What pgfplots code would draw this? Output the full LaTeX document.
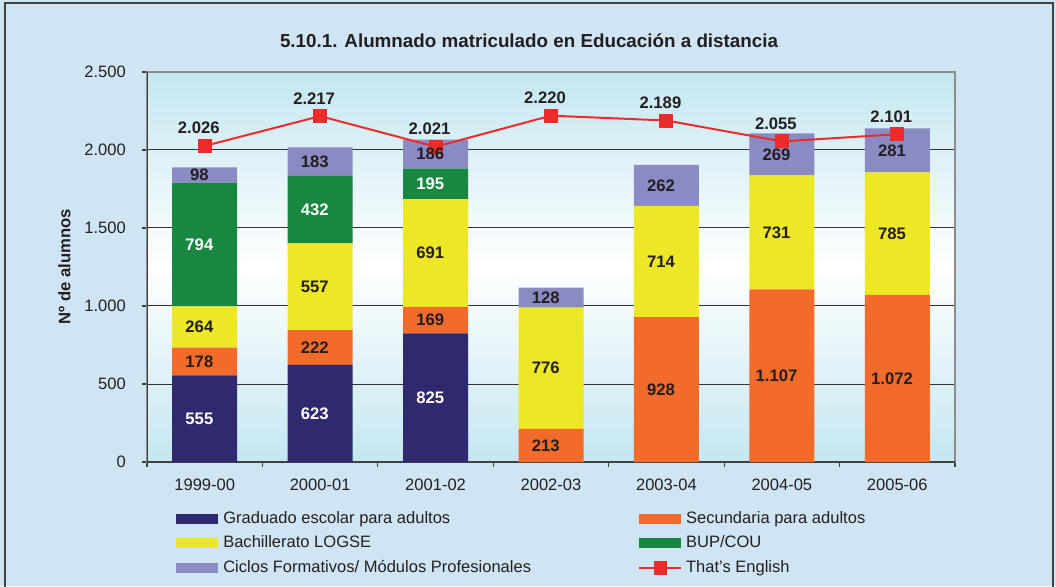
\documentclass[border=0pt]{standalone}
\usepackage{pgfplots}
\pgfplotsset{compat=1.18}
\usepackage{pgfplotstable}
\usepackage{fontspec}
\setmainfont{Liberation Sans}
\definecolor{bgblue}{RGB}{208,229,244}
\definecolor{plotblue}{RGB}{196,231,241}
\definecolor{cnavy}{RGB}{47,42,111}
\definecolor{corange}{RGB}{242,107,42}
\definecolor{cyellow}{RGB}{236,232,38}
\definecolor{cgreen}{RGB}{23,135,66}
\definecolor{clav}{RGB}{139,139,196}
\definecolor{cred}{RGB}{238,43,43}
\definecolor{ctext}{RGB}{35,31,32}
\newcommand{\fnorm}{\fontsize{12.4}{14.9}\selectfont}
\newcommand{\fbold}{\fontsize{12.5}{15}\selectfont\bfseries}

\pgfplotstableread{
x grad sec bach bup cic
0 555 178 264 794 98
1 623 222 557 432 183
2 825 169 691 195 186
3 0 213 776 0 128
4 0 928 714 0 262
5 0 1107 731 0 269
6 0 1072 785 0 281
}\bars
\pgfplotstableread{
x eng
0 2026
1 2217
2 2021
3 2220
4 2189
5 2055
6 2101
}\english
\pgfplotstableread{
x y lab
0 277.5 555
1 311.5 623
2 412.5 825
0 1394 794
1 1618 432
2 1782.5 195
}\whitelabels
\pgfplotstableread{
x y lab
0 644 178
0 865 264
0 1840 98
1 734 222
1 1123.5 557
1 1925.5 183
2 909.5 169
2 1339.5 691
2 1973 186
3 106.5 213
3 601 776
3 1053 128
4 464 928
4 1285 714
4 1773 262
5 553.5 1.107
5 1472.5 731
5 1972.5 269
6 536 1.072
6 1464.5 785
6 1997.5 281
}\darklabels

\pgfplotsset{
  common/.style={scale only axis, width=606pt, height=292.5pt,
    at={(110.25pt,93pt)}, anchor=south west,
    xmin=-0.5, xmax=6.5, ymin=0, ymax=2500,
    /pgf/number format/assume math mode=true,
    /pgf/number format/1000 sep={.}},
  barimg/.style={legend image code/.code={\fill[##1, draw=none] (0pt,-3.75pt) rectangle (31.5pt,3.75pt); \path[draw=none, fill=none] (0pt,0pt) -- (35.25pt,0pt);}},
  lineimg/.style={legend image code/.code={\draw[mark repeat=2, mark phase=2, ##1] plot coordinates {(0pt,0pt) (15.75pt,0pt) (31.5pt,0pt)}; \path[draw=none, fill=none] (0pt,0pt) -- (35.25pt,0pt);}}
}

\begin{document}
\begin{tikzpicture}
\fill[bgblue, use as bounding box] (0,0) rectangle (792pt,439.5pt);
\draw[black!75, line width=1.1pt] (3.75pt,-2pt) -- (3.75pt,437.25pt) -- (789.75pt,437.25pt) -- (789.75pt,-2pt);
\node[font=\fontsize{14.1}{17}\selectfont\bfseries, text=ctext] at (396.75pt,408.75pt) {5.10.1. Alumnado matriculado en Educación a distancia};
\node[font=\fbold, text=ctext, rotate=90] at (48.4pt,239.25pt) {Nº de alumnos};

\begin{axis}[common,
  ybar stacked, bar width=48.75pt,
  axis background/.style={top color=plotblue, bottom color=plotblue, middle color=white},
  axis line style={draw=black!45, line width=1.3pt},
  ytick={0,500,...,2500}, ytick pos=left,
  xtick={-0.5,0.5,...,6.5}, xtick pos=bottom, x tick label as interval,
  xticklabels={1999-00,2000-01,2001-02,2002-03,2003-04,2004-05,2005-06},
  tick align=outside, major tick length=3.75pt,
  tick style={draw=black!75, line width=0.8pt},
  ymajorgrids, major grid style={draw=black!80, line width=0.75pt},
  yticklabel style={font=\fnorm, text=ctext, xshift=-8.6pt},
  xticklabel style={font=\fnorm, text=ctext, yshift=-5.6pt},
]
\addplot[fill=cnavy, draw=none] table[x=x, y=grad]{\bars};
\addplot[fill=corange, draw=none] table[x=x, y=sec]{\bars};
\addplot[fill=cyellow, draw=none] table[x=x, y=bach]{\bars};
\addplot[fill=cgreen, draw=none] table[x=x, y=bup]{\bars};
\addplot[fill=clav, draw=none] table[x=x, y=cic]{\bars};
\draw[black!75, line width=1.3pt] (rel axis cs:0,1) -- (rel axis cs:0,0) -- (rel axis cs:1,0);
\end{axis}

\begin{axis}[common, hide axis,
  legend style={at={(0.0359,-0.125)}, anchor=north west, draw=none, fill=none,
    font=\fnorm, text=ctext, inner xsep=0pt, inner ysep=0pt, row sep=7pt,
    nodes={inner sep=0pt, text height=9pt, text depth=2.5pt},
    /tikz/every even column/.append style={column sep=80.25pt}},
  legend columns=2, legend cell align=left,
]
\addlegendimage{barimg, fill=cnavy}
\addlegendentry{Graduado escolar para adultos}
\addlegendimage{barimg, fill=corange}
\addlegendentry{Secundaria para adultos}
\addlegendimage{barimg, fill=cyellow}
\addlegendentry{Bachillerato LOGSE}
\addlegendimage{barimg, fill=cgreen}
\addlegendentry{BUP/COU}
\addlegendimage{barimg, fill=clav}
\addlegendentry{Ciclos Formativos/ Módulos Profesionales}
\addlegendimage{lineimg, cred, line width=1.5pt, mark=square*, mark size=4.2pt}
\addlegendentry{That's English}

\addplot[cred, line width=1.5pt, mark=square*, mark size=4.5pt, forget plot,
  nodes near coords,
  nodes near coords style={font=\fbold, text=ctext, anchor=south, inner sep=0pt, yshift=8.3pt, xshift=-4.5pt}]
  table[x=x, y=eng]{\english};
\addplot[draw=none, mark=none, forget plot, nodes near coords, point meta=explicit symbolic,
  nodes near coords style={font=\fbold, text=white, anchor=center, inner sep=0pt, xshift=-4pt}]
  table[x=x, y=y, meta=lab]{\whitelabels};
\addplot[draw=none, mark=none, forget plot, nodes near coords, point meta=explicit symbolic,
  nodes near coords style={font=\fbold, text=ctext, anchor=center, inner sep=0pt, xshift=-4pt}]
  table[x=x, y=y, meta=lab]{\darklabels};
\end{axis}
\end{tikzpicture}
\end{document}
